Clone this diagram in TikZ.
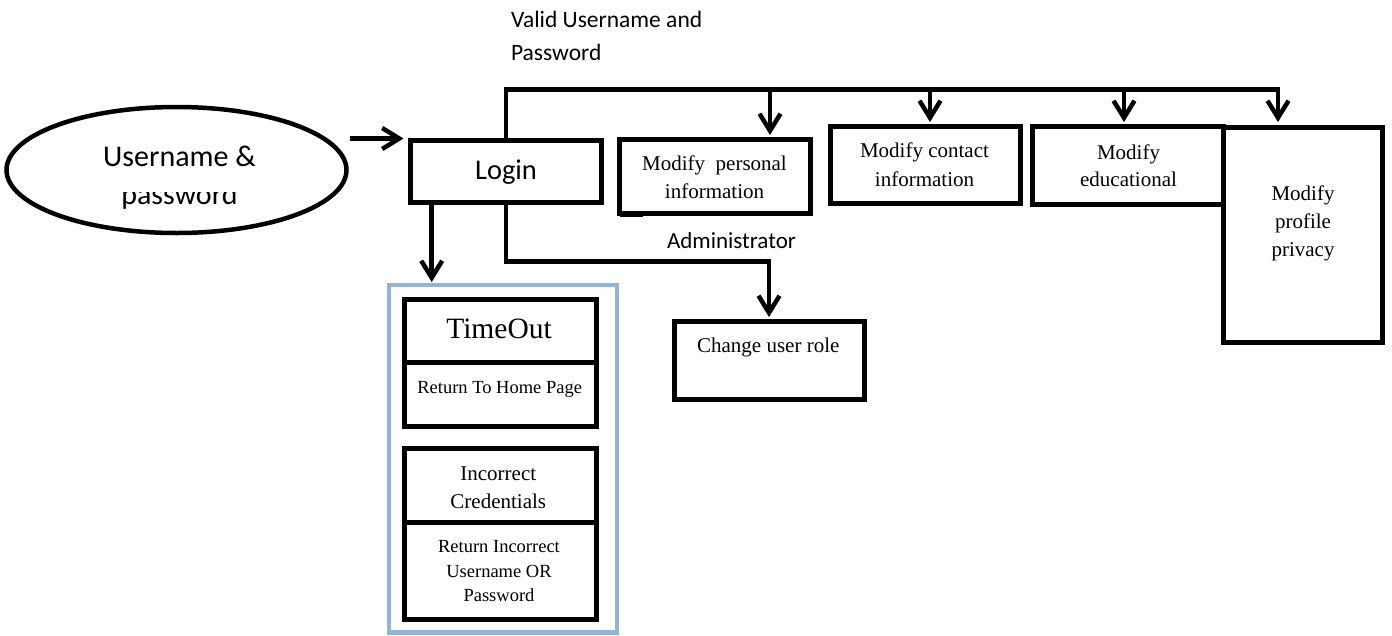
\documentclass[tikz,border=0pt]{standalone}
\usepackage{fontspec}
\setmainfont{Liberation Serif}
\newfontfamily\calibrisans{Carlito}
\usetikzlibrary{arrows.meta,shapes.geometric}
\definecolor{frameblue}{HTML}{95B3D7}
\begin{document}
\begin{tikzpicture}[x=1pt,y=-1pt,
  box/.style={draw, line width=5pt, rectangle, inner sep=0pt, outer sep=0pt},
  conn/.style={line width=4.5pt},
  arr/.style={conn, -{Straight Barb[length=17pt,width=21pt]}},
  txt/.style={inner sep=0pt, outer sep=0pt, align=center, anchor=base},
]
\useasboundingbox (0,0) rectangle (1392,635);

% input ellipse (text nodes are placed by the baseline of their last line)
\node[ellipse, draw, line width=4.5pt, inner sep=0pt, outer sep=0pt,
      minimum width=340pt, minimum height=126pt] (ell) at (176.5,170) {};
\begin{scope}
  \clip (0,0) rectangle (360,177) (0,192) rectangle (360,260);
  \node[txt, font={\calibrisans\fontsize{30}{38}\selectfont}] (elltext) at (179.5,204) {Username \&\\password};
\end{scope}

% login
\node[box, minimum width=191pt, minimum height=62pt] (login) at (506,171.5) {};
\node[txt, font={\calibrisans\fontsize{28.5}{34}\selectfont}] (logintext) at (506,179.3) {Login};

% edge labels
\node[txt, anchor=base west, align=left, font={\calibrisans\fontsize{23.5}{33}\selectfont}] (valid) at (511,60) {Valid Username and\\Password};
\node[txt, font={\calibrisans\fontsize{23}{28}\selectfont}] (admin) at (731.5,248.3) {Administrator};

% modify boxes
\node[box, minimum width=191pt, minimum height=73.8pt] (pers) at (715,176.4) {};
\node[txt, font={\fontsize{21}{27.7}\selectfont}] (perstext) at (714.5,198.3) {Modify\ \ personal\\information};
\draw[line width=5pt] ([yshift=-1.5pt]pers.south west) -- ++(23.5,0);

\node[box, minimum width=190pt, minimum height=77.5pt] (contact) at (925,164.75) {};
\node[txt, font={\fontsize{21}{28.7}\selectfont}] (contacttext) at (924.5,186) {Modify contact\\information};

\node[box, minimum width=191pt, minimum height=78pt] (edu) at (1128,165) {};
\node[txt, font={\fontsize{21}{27}\selectfont}] (edutext) at (1128.5,186) {Modify\\educational};

\node[box, minimum width=158.5pt, minimum height=215.5pt] (priv) at (1302.75,234.75) {};
\node[txt, font={\fontsize{21}{28}\selectfont}] (privtext) at (1303,256.7) {Modify\\profile\\privacy};

% change user role
\node[box, minimum width=190pt, minimum height=77.7pt] (role) at (769,360.2) {};
\node[txt, font={\fontsize{21}{27}\selectfont}] (roletext) at (768.3,352.7) {Change user role};

% error handling group
\node[draw=frameblue, line width=4.5pt, inner sep=0pt, outer sep=0pt,
      minimum width=228pt, minimum height=347.5pt] (grp) at (503,458.75) {};
\node[box, minimum width=192pt, minimum height=63pt] (timeout) at (500,330.5) {};
\node[box, minimum width=192pt, minimum height=64.5pt] (home) at (500,394.25) {};
\node[box, minimum width=192pt, minimum height=74pt] (incorrect) at (500,485) {};
\node[box, minimum width=192pt, minimum height=97pt] (retinc) at (500,570.5) {};
\node[txt, font={\fontsize{29.5}{34}\selectfont}] (timeouttext) at (499,338) {TimeOut};
\node[txt, font={\fontsize{18.5}{24}\selectfont}] (hometext) at (499.7,393) {Return To Home Page};
\node[txt, font={\fontsize{21}{28.3}\selectfont}] (incorrecttext) at (498.3,508.3) {Incorrect\\Credentials};
\node[txt, font={\fontsize{18.5}{24.5}\selectfont}] (retinctext) at (499,601.7) {Return Incorrect\\Username OR\\Password};

% connectors
\coordinate (busR) at (1278,89.5);
\coordinate (dPers) at (770,89.5);
\coordinate (dContact) at (930,89.5);
\coordinate (dEdu) at (1124,89.5);
\coordinate (tcol) at (431.7,0);

\draw[arr] ([xshift=3.5pt,yshift=2pt]ell.east |- login.north west) -- ([xshift=-7pt,yshift=2pt]login.north west);
\draw[arr, shorten >=5pt] (login.north) |- (busR) -- (busR |- priv.north);
\draw[arr, shorten >=4.5pt] (dPers) -- (dPers |- pers.north);
\draw[arr, shorten >=4pt] (dContact) -- (dContact |- contact.north);
\draw[arr, shorten >=4pt] (dEdu) -- (dEdu |- edu.north);
\draw[arr, shorten >=4.3pt] (login.south) -- ++(0,59.2) -| (role.north);
\draw[arr, shorten >=3pt] (login.south -| tcol) -- (tcol |- grp.north);
\end{tikzpicture}
\end{document}
